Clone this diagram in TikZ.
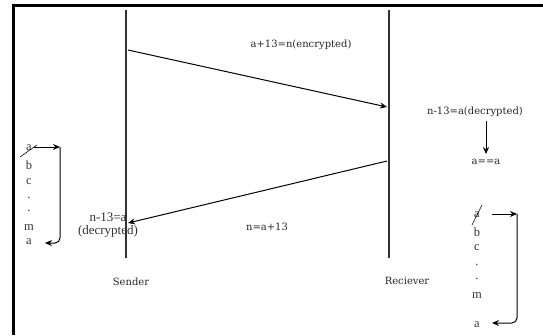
\documentclass[tikz,border=0pt]{standalone}
\usepackage{fontspec}
\setmainfont{DejaVu Serif}
\newfontfamily\lsf{Liberation Serif}
\usetikzlibrary{arrows.meta}
\tikzset{
  lbl/.style={font=\fontsize{10}{11}\selectfont, inner sep=0pt, text=black!85},
  lst/.style={font=\lsf\fontsize{12.5}{13}\selectfont, inner sep=0pt, text=black!80},
  life/.style={line width=1.4pt, black!80},
  msg/.style={line width=1pt, -{Stealth[length=7pt,width=6pt]}},
  bord/.style={line width=3pt, black}
}
\begin{document}
\begin{tikzpicture}[x=1pt,y=-1pt]
\useasboundingbox (0,0) rectangle (543,335);
% border
\draw[bord] (13.5,5.5) -- (543,5.5);
\draw[bord] (13.5,4) -- (13.5,335);
% lifelines
\coordinate (s0) at (126,10); \coordinate (s1) at (126,258);
\coordinate (r0) at (389,10); \coordinate (r1) at (389,258);
\draw[life] (s0) -- (s1);
\draw[life] (r0) -- (r1);
\node[lbl] (sender) at (131,282) {Sender};
\node[lbl] (recv) at (407,281) {Reciever};
% messages
\coordinate (m1a) at (128,50); \coordinate (m1b) at (387,107);
\draw[msg] (m1a) -- (m1b);
\node[lbl] (enc) at (301,45) {a+13=n(encrypted)};
\coordinate (m2a) at (387,161); \coordinate (m2b) at (128,223);
\draw[msg] (m2a) -- (m2b);
\node[lbl] (neq) at (267,227) {n=a+13};
\node[lst, font=\lsf\fontsize{13}{13}\selectfont, align=center] (sdec) at (108,225) {n-13=a\\(decrypted)};
% receiver side
\node[lbl] (rdec) at (475,112) {n-13=a(decrypted)};
\node[lbl] (aeq) at (486,162) {a==a};
\draw[msg] ([yshift=-4pt]rdec.south -| aeq.north) -- ([yshift=5pt]aeq.north);
% left list
\node[lst] (la1) at (29,148) {a};
\node[lst] (lb) at (29,165) {b};
\node[lst] (lc) at (29,182) {c};
\node[lst] (ld1) at (29,198) {.};
\node[lst] (ld2) at (29,211) {.};
\node[lst] (lm) at (29,228) {m};
\node[lst] (la2) at (29,242) {a};
\draw[line width=0.6pt] (20,157) -- (37,145);
\coordinate (lc1) at (60,147);
\draw[msg] (34,147) -- (lc1);
\draw[msg, rounded corners=5pt] (lc1) -- (60,243) -- (45,243);
% right list
\node[lst] (ra1) at (477,215) {a};
\node[lst] (rb) at (477,232) {b};
\node[lst] (rc) at (477,248) {c};
\node[lst] (rd1) at (477,265) {.};
\node[lst] (rd2) at (477,279) {.};
\node[lst] (rm) at (477,296) {m};
\node[lst] (ra2) at (477,325) {a};
\draw[line width=0.6pt] (472,225) -- (482,205);
\coordinate (rc1) at (517,214);
\draw[msg] (492,214) -- (rc1);
\draw[msg, rounded corners=5pt] (rc1) -- (517,323) -- (492,323);
\end{tikzpicture}
\end{document}
